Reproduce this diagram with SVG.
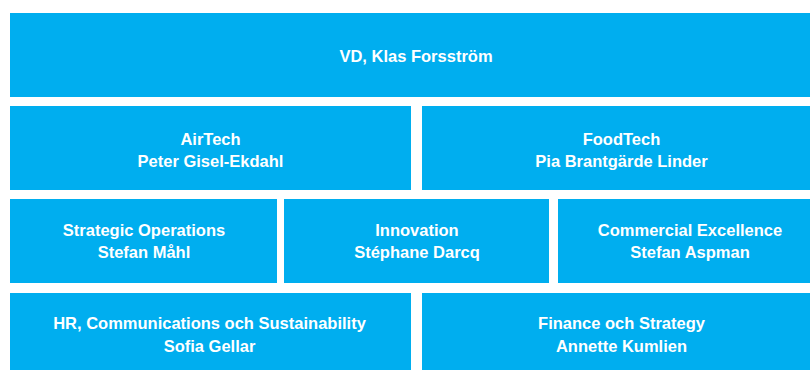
<svg xmlns="http://www.w3.org/2000/svg" width="810" height="370" viewBox="0 0 810 370">
<style>
.box{fill:#00AEEF}
.t{fill:#ffffff;font-family:"Liberation Sans",Arial,sans-serif;font-weight:bold;font-size:16.5px;text-anchor:middle}
</style>
<rect width="810" height="370" fill="#ffffff"/>
<g id="vd"><rect class="box" x="10" y="13" width="800" height="84"/><text class="t" x="416" y="62">VD, Klas Forsström</text></g>
<g id="airtech"><rect class="box" x="10" y="106" width="401" height="84"/><text class="t" x="210.5" y="145">AirTech</text><text class="t" x="210.5" y="167">Peter Gisel-Ekdahl</text></g>
<g id="foodtech"><rect class="box" x="422" y="106" width="388" height="84"/><text class="t" x="621.5" y="145">FoodTech</text><text class="t" x="621.5" y="167">Pia Brantgärde Linder</text></g>
<g id="strategic"><rect class="box" x="10" y="199" width="267" height="84"/><text class="t" x="144" y="236">Strategic Operations</text><text class="t" x="144" y="258">Stefan Måhl</text></g>
<g id="innovation"><rect class="box" x="284" y="199" width="265" height="84"/><text class="t" x="417" y="236">Innovation</text><text class="t" x="417" y="258">Stéphane Darcq</text></g>
<g id="commercial"><rect class="box" x="558" y="199" width="252" height="84"/><text class="t" x="690" y="236">Commercial Excellence</text><text class="t" x="690" y="258">Stefan Aspman</text></g>
<g id="hr"><rect class="box" x="10" y="293" width="401" height="77"/><text class="t" x="209.5" y="329">HR, Communications och Sustainability</text><text class="t" x="209.5" y="352">Sofia Gellar</text></g>
<g id="finance"><rect class="box" x="422" y="293" width="388" height="77"/><text class="t" x="621.5" y="329">Finance och Strategy</text><text class="t" x="621.5" y="352">Annette Kumlien</text></g>
<g id="connectors"></g>
</svg>
